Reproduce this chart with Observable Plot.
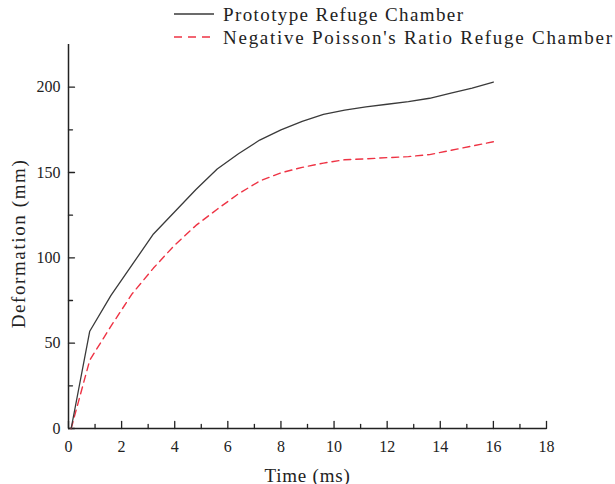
<!DOCTYPE html>
<html>
<head>
<meta charset="utf-8">
<script src="https://cdn.jsdelivr.net/npm/d3@7"></script>
<script src="https://cdn.jsdelivr.net/npm/@observablehq/plot@0.6"></script>
<style>
  html, body { margin: 0; padding: 0; background: #fff; }
  #wrap { position: relative; width: 615px; height: 484px; }
  #legend { position: absolute; left: 0; top: 0; }
  #chart svg { display: block; }
</style>
</head>
<body>
<div id="wrap">
  <div id="chart"></div>
  <svg id="legend" width="615" height="50"></svg>
</div>
<script>
const time = [0.1, 0.8, 1.6, 2.4, 3.2, 4.0, 4.8, 5.6, 6.4, 7.2, 8.0, 8.8, 9.6, 10.4, 11.2, 12.0, 12.8, 13.6, 14.4, 15.2, 16.0];
const prototype = [0, 57, 78, 96, 114, 127, 140, 152, 161, 169, 175, 180, 184, 186.5, 188.5, 190, 191.5, 193.5, 196.5, 199.5, 203];
const negativePoisson = [0, 40, 60, 79, 94, 107.5, 119, 128.5, 137.5, 145, 149.8, 153, 155.5, 157.5, 158, 158.7, 159.3, 160.5, 163, 165.5, 168];
const seriesNames = ["Prototype Refuge Chamber", "Negative Poisson's Ratio Refuge Chamber"];
const xMajorTicks = [0, 2, 4, 6, 8, 10, 12, 14, 16, 18];
const xMinorTicks = [1, 3, 5, 7, 9, 11, 13, 15, 17];
const yMajorTicks = [0, 50, 100, 150, 200];
const yMinorTicks = [25, 75, 125, 175];

const FONT = "Liberation Serif, serif";
const INK = "#222";
const BLACK_LINE = "#3a3a3a";
const RED_LINE = "#ee3344";

const protoData = time.map((t, i) => ({t, v: prototype[i]}));
const npData = time.map((t, i) => ({t, v: negativePoisson[i]}));

// plain tick shape for vectors
const tickShape = {draw(context, l) { context.moveTo(0, 0); context.lineTo(0, -l); }};

const chart = Plot.plot({
  width: 615,
  height: 484,
  marginLeft: 68,
  marginRight: 69,
  marginTop: 44,
  marginBottom: 56,
  style: {fontFamily: FONT, fontSize: "16px", color: INK, background: "#fff"},
  x: {domain: [0, 18]},
  y: {domain: [0, 225]},
  marks: [
    Plot.axisX({ticks: xMajorTicks, tickSize: 0, tickPadding: 12, fontSize: 16, label: "Time (ms)", labelAnchor: "center", labelOffset: 53, labelArrow: "none", tickFormat: d => String(d)}),
    Plot.axisY({ticks: yMajorTicks, tickSize: 0, tickPadding: 8, fontSize: 16, label: "Deformation (mm)", labelAnchor: "center", labelOffset: 57, labelArrow: "none", tickFormat: d => String(d)}),
    Plot.vector(xMajorTicks, {x: d => d, y: () => 0, length: 7, rotate: 0, anchor: "start", shape: tickShape, stroke: INK, strokeWidth: 1.3}),
    Plot.vector(xMinorTicks, {x: d => d, y: () => 0, length: 4, rotate: 0, anchor: "start", shape: tickShape, stroke: INK, strokeWidth: 1.3}),
    Plot.vector(yMajorTicks, {x: () => 0, y: d => d, length: 6, rotate: 90, anchor: "start", shape: tickShape, stroke: INK, strokeWidth: 1.3}),
    Plot.vector(yMinorTicks, {x: () => 0, y: d => d, length: 4, rotate: 90, anchor: "start", shape: tickShape, stroke: INK, strokeWidth: 1.3}),
    Plot.ruleX([0], {stroke: INK, strokeWidth: 1.5}),
    Plot.ruleY([0], {stroke: INK, strokeWidth: 1.5}),
    Plot.line(npData, {x: "t", y: "v", stroke: RED_LINE, strokeWidth: 1.4, strokeDasharray: "7,5", curve: "linear"}),
    Plot.line(protoData, {x: "t", y: "v", stroke: BLACK_LINE, strokeWidth: 1.3, curve: "linear"})
  ]
});
document.getElementById("chart").appendChild(chart);

// style axis labels
d3.select(chart).selectAll("[aria-label='x-axis label'] text")
  .style("font-size", "19px").style("letter-spacing", "0.8px");
d3.select(chart).selectAll("[aria-label='y-axis label'] text")
  .style("font-size", "19px").style("letter-spacing", "1.6px")
  .attr("transform", function() { return (this.getAttribute("transform") || "") + " translate(-7,0)"; });

// legend
const leg = d3.select("#legend");
const items = [
  {name: seriesNames[0], stroke: BLACK_LINE, dash: null, y: 14, len: 240},
  {name: seriesNames[1], stroke: RED_LINE, dash: "8,6", y: 37, len: 389}
];
items.forEach(it => {
  leg.append("line")
    .attr("x1", 174).attr("x2", 214)
    .attr("y1", it.y).attr("y2", it.y)
    .attr("stroke", it.stroke).attr("stroke-width", 1.4)
    .attr("stroke-dasharray", it.dash);
  leg.append("text")
    .attr("x", 223).attr("y", it.y + 7)
    .attr("font-family", FONT).attr("font-size", 19)
    .attr("fill", INK)
    .attr("textLength", it.len).attr("lengthAdjust", "spacing")
    .text(it.name);
});
</script>
</body>
</html>
